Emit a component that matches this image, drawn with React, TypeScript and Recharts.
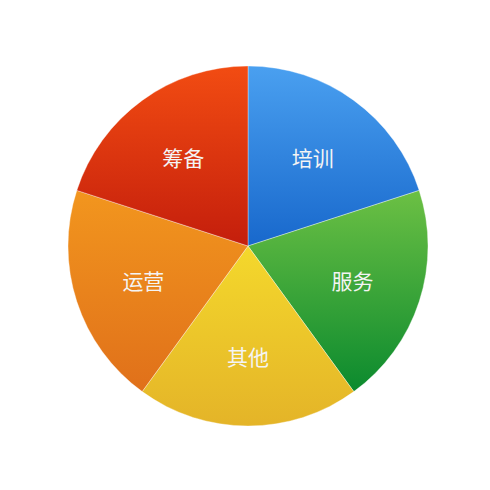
import React from 'react';
import { PieChart, Pie, Cell } from 'recharts';

// five equal slices, clockwise from 12 o'clock
const categories = ['培训', '服务', '其他', '运营', '筹备'];
const shares = [20, 20, 20, 20, 20];

const gradientTop = ['#4aa0f0', '#6cc044', '#f4d82c', '#f2961e', '#f24c12'];
const gradientBottom = ['#1868cc', '#0b8a2e', '#e4b428', '#e0701a', '#c41e0c'];

const data = categories.map((name, i) => ({ name, value: shares[i] }));

const RAD = Math.PI / 180;

const renderLabel = (props: any) => {
  const { cx, cy, midAngle, index } = props;
  const r = 110;
  const x = cx + r * Math.cos(-midAngle * RAD);
  const y = cy + r * Math.sin(-midAngle * RAD);
  return (
    <text
      x={x}
      y={y}
      fill="#f4f4f4"
      textAnchor="middle"
      dominantBaseline="central"
      fontSize={21}
      fontFamily="'Noto Sans CJK SC', 'Noto Sans', sans-serif"
    >
      {categories[index]}
    </text>
  );
};

export default function App() {
  return (
    <div style={{ width: 474, height: 474, background: '#fff' }}>
      <PieChart width={474} height={474} margin={{ top: 0, right: 0, bottom: 0, left: 0 }}>
        <defs>
          {categories.map((_, i) => (
            <linearGradient key={i} id={`slice${i}`} x1="0" y1="0" x2="0" y2="1">
              <stop offset="0%" stopColor={gradientTop[i]} />
              <stop offset="100%" stopColor={gradientBottom[i]} />
            </linearGradient>
          ))}
        </defs>
        <Pie
          data={data}
          dataKey="value"
          nameKey="name"
          cx={240}
          cy={238}
          outerRadius={180}
          startAngle={90}
          endAngle={-270}
          stroke="rgba(255,255,255,0.35)"
          strokeWidth={1}
          label={renderLabel}
          labelLine={false}
          isAnimationActive={false}
        >
          {data.map((_, i) => (
            <Cell key={i} fill={`url(#slice${i})`} />
          ))}
        </Pie>
      </PieChart>
    </div>
  );
}
